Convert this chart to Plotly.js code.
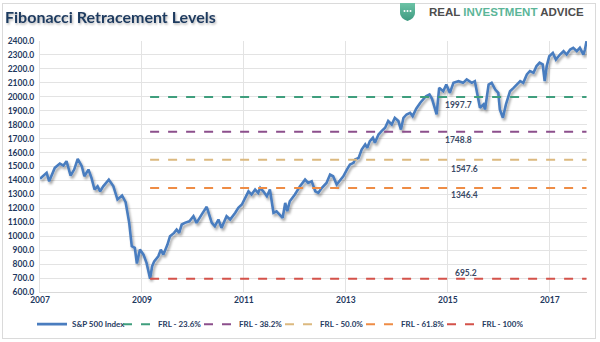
<!DOCTYPE html>
<html><head><meta charset="utf-8">
<script src="https://cdn.plot.ly/plotly-3.0.1.min.js"></script>
<style>
html,body{margin:0;padding:0;background:#fff;}
#wrap{position:relative;width:600px;height:342px;}
#chart{position:absolute;left:0;top:0;width:600px;height:342px;}
#frame{position:absolute;left:2px;top:3px;width:592px;height:334px;border:1px solid #dadada;pointer-events:none;}
#logo{position:absolute;left:0;top:0;pointer-events:none;}
#chart .scatterlayer .trace:first-child path.js-line{filter:url(#lshadow);}
#chart .gtitle{filter:url(#tshadow);}
</style></head><body>
<div id="wrap">
<div id="chart"></div>
<div id="frame"></div>
<svg id="logo" width="600" height="342">
<defs>
<filter id="lshadow" x="-5%" y="-5%" width="110%" height="115%"><feDropShadow dx="1.5" dy="2.5" stdDeviation="1.2" flood-color="#000" flood-opacity="0.35"/></filter>
<filter id="tshadow" x="-5%" y="-20%" width="110%" height="150%"><feDropShadow dx="1" dy="1.5" stdDeviation="0.8" flood-color="#000" flood-opacity="0.3"/></filter>
<linearGradient id="sg" x1="0" y1="0" x2="0" y2="1"><stop offset="0" stop-color="#6cc3a6"/><stop offset="1" stop-color="#3e9a80"/></linearGradient>
</defs>
<path d="M400,3 L415,3 L415,13 Q415,18 407.5,21 Q400,18 400,13 Z" fill="url(#sg)"/>
<circle cx="404.5" cy="11" r="1" fill="#fff"/><circle cx="407.5" cy="11" r="1" fill="#fff"/><circle cx="410.5" cy="11" r="1" fill="#fff"/>
</svg>
</div>
<script>
// S&P 500 Index (decimal year)
const spYears = [2007.0,2007.13,2007.18,2007.29,2007.39,2007.46,2007.52,2007.60,2007.67,2007.74,2007.82,2007.87,2007.95,
2008.01,2008.07,2008.13,2008.18,2008.24,2008.35,2008.44,2008.52,2008.61,2008.68,2008.75,2008.80,2008.86,2008.90,2008.96,
2009.03,2009.09,2009.16,2009.20,2009.24,2009.32,2009.37,2009.42,2009.50,2009.55,2009.63,2009.68,2009.73,2009.78,2009.84,2009.93,
2010.01,2010.07,2010.17,2010.27,2010.37,2010.43,2010.50,2010.56,2010.66,2010.73,2010.83,2010.89,2010.96,
2011.02,2011.09,2011.15,2011.22,2011.28,2011.32,2011.38,2011.45,2011.51,2011.58,2011.64,2011.72,2011.76,2011.81,2011.85,2011.90,
2012.00,2012.10,2012.20,2012.26,2012.33,2012.40,2012.46,2012.53,2012.62,2012.69,2012.75,2012.82,2012.89,2012.95,
2013.02,2013.08,2013.15,2013.18,2013.25,2013.31,2013.38,2013.42,2013.47,2013.53,2013.57,2013.64,2013.70,2013.77,2013.83,2013.90,2013.96,
2014.03,2014.08,2014.13,2014.19,2014.26,2014.31,2014.38,2014.46,2014.52,2014.57,2014.64,2014.69,2014.78,2014.83,2014.91,2014.97,
2015.04,2015.11,2015.21,2015.30,2015.37,2015.47,2015.53,2015.60,2015.63,2015.70,2015.73,2015.80,2015.86,2015.93,2015.99,
2016.02,2016.08,2016.14,2016.22,2016.29,2016.35,2016.42,2016.48,2016.55,2016.61,2016.68,2016.74,2016.80,2016.86,2016.90,2016.94,2016.99,
2017.06,2017.12,2017.20,2017.27,2017.33,2017.40,2017.46,2017.53,2017.59,2017.66,2017.69,2017.72];
const spValues = [1412,1455,1394,1490,1521,1507,1538,1435,1478,1555,1502,1430,1478,
1419,1335,1358,1322,1358,1406,1358,1263,1292,1244,1096,928,917,804,904,
868,809,695,785,820,856,904,868,940,1000,1024,1048,1024,1084,1096,1107,
1143,1096,1155,1211,1096,1072,1120,1060,1143,1120,1168,1203,1227,
1275,1322,1299,1335,1311,1347,1322,1287,1335,1168,1179,1143,1132,1239,1179,1251,
1299,1358,1406,1382,1394,1322,1311,1347,1382,1442,1430,1371,1406,1430,
1478,1514,1526,1550,1562,1622,1658,1634,1682,1706,1670,1729,1754,1778,1826,1801,1849,
1826,1765,1849,1873,1885,1861,1914,1957,1980,2004,2016,1985,1873,2064,2040,2088,
2028,2100,2112,2100,2124,2100,2112,1993,1921,1945,1909,2088,2100,2052,2028,
1909,1849,1945,2040,2064,2088,2112,2100,2160,2184,2172,2220,2244,2232,2112,2220,2291,
2315,2267,2303,2327,2303,2339,2351,2327,2351,2303,2339,2399];

// Fibonacci retracement levels
const frlNames = ["FRL - 23.6%","FRL - 38.2%","FRL - 50.0%","FRL - 61.8%","FRL - 100%"];
const frlValues = [1997.7,1748.8,1547.6,1346.4,695.2];
const frlColors = ["#3f9e7d","#8c4f8c","#dcb97f","#ee8c45","#d4524a"];
const frlSpan = [2009.16,2017.72];
const frlLabelX = [2015.2,2015.2,2015.32,2015.32,2015.35];
const frlLabelShift = [-8,-8,-9,-7,6];

const xTicks = [2007,2009,2011,2013,2015,2017];

const traces = [{
  x: spYears, y: spValues, type:'scatter', mode:'lines', name:'S&P 500 Index',
  line:{color:'#4a7dbf', width:2.6}, legend:'legend'
}];
frlNames.forEach((n,i)=>{
  traces.push({x: frlSpan, y:[frlValues[i],frlValues[i]], type:'scatter', mode:'lines', name:n,
    line:{color:frlColors[i], width:2, dash:'dash'}, legend:'legend2'});
});

const annotations = frlValues.map((v,i)=>({
  x: frlLabelX[i], y: v, xref:'x', yref:'y', text: v.toFixed(1), showarrow:false,
  yshift: frlLabelShift[i], font:{family:'Lato, sans-serif', size:8.5, color:'#3a4a66', weight:'bold'}
}));
annotations.push({
  xref:'paper', yref:'paper', x:(427-40)/547, y:1+(41-12)/251, xanchor:'left', yanchor:'middle', showarrow:false,
  text:'<span style="color:#4d4d4d">REAL </span><span style="color:#5bb598">INVESTMENT </span><span style="color:#4d4d4d">ADVICE</span>',
  font:{family:'Liberation Sans, Arial, sans-serif', size:11.5, weight:'bold'}
});

const legFont = {family:'Lato, sans-serif', size:8, color:'#1f3a5f', weight:'bold'};
const layout = {
  width:600, height:342,
  margin:{l:40, r:13, t:41, b:50, autoexpand:false},
  paper_bgcolor:'#ffffff', plot_bgcolor:'#ffffff',
  title:{text:'Fibonacci Retracement Levels', x:5/600, xanchor:'left', y:1-17/342, yanchor:'middle',
    font:{family:'Lato, sans-serif', size:16, color:'#1f3a5f', weight:'bold'}},
  xaxis:{range:[2007,2017.73], tickvals:xTicks, ticktext:xTicks.map(String), showgrid:true, gridcolor:'#e3e3e3', gridwidth:1,
    zeroline:false, showline:true, linecolor:'#d9d9d9', ticks:'', tickfont:{family:'Lato, sans-serif', size:8.5, color:'#1f3a5f', weight:'bold'}},
  yaxis:{range:[600,2400], dtick:100, tick0:600, tickformat:'.1f', showgrid:true, gridcolor:'#e3e3e3', gridwidth:1,
    zeroline:false, showline:true, linecolor:'#e3e3e3', ticks:'', ticklabelstandoff:3,
    tickfont:{family:'Lato, sans-serif', size:8.5, color:'#1f3a5f', weight:'bold'}},
  showlegend:true,
  legend:{orientation:'h', x:(32-40)/547, xanchor:'left', y:-0.128, yanchor:'middle', font:legFont,
    itemwidth:30, bgcolor:'rgba(0,0,0,0)'},
  legend2:{orientation:'h', x:(118-40)/547, xanchor:'left', y:-0.128, yanchor:'middle', font:legFont,
    itemwidth:30, entrywidth:36, entrywidthmode:'pixels', bgcolor:'rgba(0,0,0,0)'},
  annotations: annotations
};
Plotly.newPlot('chart', traces, layout, {displayModeBar:false, staticPlot:true});
</script>
</body></html>
